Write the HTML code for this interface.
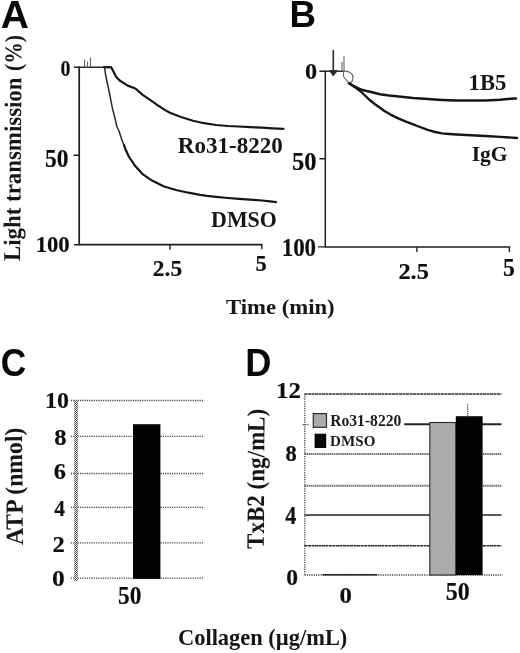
<!DOCTYPE html>
<html>
<head>
<meta charset="utf-8">
<title>Figure</title>
<style>
html,body{margin:0;padding:0;background:#fff;}
body{width:520px;height:653px;overflow:hidden;}
svg{display:block;}
.pl{font-family:"Liberation Sans",Arial,sans-serif;font-weight:bold;fill:#080808;}
.t{font-family:"Liberation Serif","Times New Roman",serif;font-weight:bold;fill:#0e0e0e;stroke:#0e0e0e;stroke-width:0.18;}
.tl{font-family:"Liberation Serif","Times New Roman",serif;font-weight:bold;fill:#161616;}
.lg{font-family:"Liberation Serif","Times New Roman",serif;font-weight:bold;fill:#1a1a1a;}
.ax{stroke:#1e1e1e;stroke-width:1.7;fill:none;}
.tk{stroke:#222;stroke-width:1.4;fill:none;}
.cv{stroke:#161616;stroke-width:2.2;fill:none;stroke-linejoin:round;stroke-linecap:round;}
.cv2{stroke:#2a2a2a;stroke-width:1.6;fill:none;stroke-linejoin:round;stroke-linecap:round;}
.cv3{stroke:#666;stroke-width:1.1;fill:none;stroke-linejoin:round;stroke-linecap:round;}
.gd{stroke:#444;stroke-width:1.3;stroke-dasharray:1.2 1.1;fill:none;}
.gk{stroke:#242424;stroke-width:1.6;fill:none;}
.gg{stroke:#6e6e6e;stroke-width:2;fill:none;stroke-dasharray:1.5 0.6;}
</style>
</head>
<body>
<svg width="520" height="653" viewBox="0 0 520 653">
<rect x="0" y="0" width="520" height="653" fill="#ffffff"/>

<!-- Panel letters -->
<text class="pl" font-size="36" transform="translate(0.73 27.50) scale(1.0821 1.0588)">A</text>
<text class="pl" font-size="36" transform="translate(289.61 27.40) scale(1.0200 1.0467)">B</text>
<text class="pl" font-size="36" transform="translate(0.69 376.11) scale(0.9796 1.0837)">C</text>
<text class="pl" font-size="36" transform="translate(245.34 375.80) scale(1.0072 1.0548)">D</text>
<!-- Panel A -->
<path class="ax" d="M79.2 66.5 V244.7 H262.6"/>
<path class="tk" d="M79 155.2 h-5.5 M170 244.7 v5 M261.8 244.7 v4.6 M73.8 67.2 h5.4 M74 244.7 h5"/>
<path class="cv2" d="M79 67.2 H111"/>
<path class="cv3" d="M84.5 67 v-7 M87.5 67 v-5 M90.5 67 v-9"/>
<path class="cv" d="M104.0 67.2 L111.3 67.4 L113.3 71.2 L116.2 77.0 L120.0 80.8 L127.7 85.6 L135.4 88.5 L143.0 95.2 L150.8 100.4 L158.5 105.8 L166.0 110.6 L170.0 112.7 L181.0 117.0 L193.0 120.8 L204.0 123.2 L216.0 125.0 L228.0 126.0 L239.0 126.5 L250.0 127.1 L262.0 127.7 L273.0 128.3 L283.5 128.8"/>
<path class="cv" d="M104.6 67.3 L105.6 75.0 L108.5 88.5 L112.3 107.7 L115.4 120.0 L117.0 127.0 L119.2 131.5 L122.0 140.4 L124.0 145.0 L125.8 150.0" style="stroke-width:1.5;stroke:#2c2c2c"/>
<path class="cv" d="M124.0 145.0 L125.8 150.0 L128.8 156.5 L134.6 165.2 L142.3 173.8 L152.0 180.6 L163.5 186.3 L170.0 188.3 L177.0 190.2 L188.5 192.7 L200.0 194.8 L207.0 195.9 L216.0 196.8 L228.0 198.0 L239.0 198.9 L250.0 199.7 L262.0 200.5 L270.0 201.4 L276.0 202.2"/>
<text class="t" font-size="24" transform="translate(60.40 75.97) scale(0.8333 0.9506)">0</text>
<text class="t" font-size="24" transform="translate(44.96 166.84) scale(0.9783 1.0679)">50</text>
<text class="t" font-size="24" transform="translate(35.69 251.77) scale(0.9450 0.9568)">100</text>
<text class="t" font-size="24" transform="translate(152.86 275.84) scale(0.9752 0.9877)">2.5</text>
<text class="t" font-size="24" transform="translate(255.61 270.56) scale(0.9314 1.0025)">5</text>
<text class="tl" font-size="24" transform="translate(177.75 153.27) scale(0.9611 0.9506)">Ro31-8220</text>
<text class="tl" font-size="24" transform="translate(211.06 227.28) scale(0.9144 0.9266)">DMSO</text>
<text class="tl" font-size="24" transform="translate(20.10 261.04) rotate(-89.6) scale(0.9526 1.0051)">Light transmission</text>
<text class="tl" font-size="24" transform="translate(21.29 70.97) rotate(-89.6) scale(0.9019 1.0051)">(%)</text>
<!-- Panel B -->
<path class="ax" d="M325.3 70.5 V246.9 H510.2" style="stroke-width:1.5"/>
<path class="tk" d="M325 158.8 h-5.6 M416.9 246.9 v5 M509.4 246.9 v5 M319.4 71.2 h6 M318 246.9 h7"/>
<path class="cv2" d="M325 71.2 H344"/>
<path class="cv2" d="M333.3 50.6 V75 M330.2 70.8 L333.3 75.4 L336.6 70.8 Z" style="fill:#2a2a2a"/>
<path class="cv3" d="M344 56.3 V71.2 M342 62 V70"/>
<path class="cv3" d="M344 71.2 C349 70.5 353.5 74 353 78 C352.5 82 350.5 83.5 349 83.3 M343.6 71.2 L343.5 76.5 L349 83.3"/>
<path class="cv" d="M349.0 83.3 L354.0 86.5 L360.8 89.5 L366.5 91.0 L370.0 91.8 L380.0 94.2 L389.0 95.5 L398.8 96.4 L413.0 98.0 L427.7 99.0 L442.0 99.9 L456.5 100.5 L471.0 100.6 L485.4 100.5 L500.0 99.7 L514.2 98.5 L516.0 98.4" style="stroke-width:2.5"/>
<path class="cv" d="M349.0 83.3 L355.0 87.0 L360.8 91.5 L366.0 96.5 L370.0 100.3 L375.0 104.2 L380.0 107.8 L384.4 111.0 L391.0 114.8 L398.8 118.6 L406.0 121.6 L413.3 124.4 L420.0 127.0 L427.7 129.8 L435.0 132.0 L442.0 133.4 L449.0 134.0 L456.5 134.5 L471.0 135.3 L485.4 136.0 L500.0 136.9 L517.0 138.0" style="stroke-width:2.4"/>
<text class="t" font-size="24" transform="translate(305.03 78.78) scale(1.0119 0.9259)">0</text>
<text class="t" font-size="24" transform="translate(292.02 170.15) scale(1.0236 1.0432)">50</text>
<text class="t" font-size="24" transform="translate(281.66 256.46) scale(0.9571 1.0062)">100</text>
<text class="t" font-size="24" transform="translate(398.43 278.84) scale(1.0142 1.0000)">2.5</text>
<text class="t" font-size="24" transform="translate(502.95 275.76) scale(0.9902 1.0150)">5</text>
<text class="tl" font-size="24" transform="translate(468.58 89.57) scale(0.9462 0.9515)">1B5</text>
<text class="tl" font-size="24" transform="translate(471.65 161.00) scale(0.8982 0.9160)">IgG</text>
<text class="tl" font-size="24" transform="translate(225.96 313.90) scale(0.9470 0.9160)">Time (min)</text>
<!-- Panel C -->
<path class="gd" d="M70.8 400.5 H203 M70.8 436.3 H203 M70.8 473.5 H203 M70.8 507.4 H203 M70.8 542.8 H203 M70.8 578.2 H203"/>
<defs><pattern id="chk" x="0" y="0" width="2" height="2" patternUnits="userSpaceOnUse"><rect width="2" height="2" fill="#e6e6e6"/><rect x="0" y="0" width="1" height="1" fill="#5a5a5a"/><rect x="1" y="1" width="1" height="1" fill="#5a5a5a"/></pattern></defs>
<rect x="74.2" y="400" width="3.8" height="181" fill="url(#chk)"/>
<rect x="133" y="424.2" width="27.4" height="154.7" fill="#030303"/>
<text class="t" font-size="24" transform="translate(44.98 407.67) scale(0.9991 0.9506)">10</text>
<text class="t" font-size="24" transform="translate(54.14 444.77) scale(1.0271 0.9506)">8</text>
<text class="t" font-size="24" transform="translate(53.75 478.57) scale(1.0153 0.9515)">6</text>
<text class="t" font-size="24" transform="translate(54.28 516.30) scale(0.8961 0.9659)">4</text>
<text class="t" font-size="24" transform="translate(52.52 551.60) scale(1.0241 0.9848)">2</text>
<text class="t" font-size="24" transform="translate(51.98 585.57) scale(1.0615 0.9506)">0</text>
<text class="t" font-size="24" transform="translate(117.97 603.75) scale(0.9737 1.0247)">50</text>
<text class="tl" font-size="24" transform="translate(23.00 545.04) rotate(-90.6) scale(0.9889 1.0305)">ATP (nmol)</text>
<!-- Panel D -->
<path class="gd" d="M304.8 394 V575.5"/>
<path class="gk" d="M304.5 394 H501.5" style="stroke-dasharray:3 0.5;stroke-width:1.6;stroke:#2e2e2e"/>
<path class="gd" d="M302.7 424.6 H309.5"/>
<path class="gk" d="M404.2 424.2 H501.5" style="stroke-width:2"/>
<path class="gg" d="M304.5 454 H501.5"/>
<path class="gg" d="M304.5 485.7 H501.5"/>
<path class="gk" d="M304.5 515 H501.5"/>
<path class="gk" d="M304.5 545.8 H501.5" style="stroke-dasharray:3 0.5;stroke-width:1.5;stroke:#2e2e2e"/>
<path class="gd" d="M304.5 575 H502.5"/>
<path class="gk" d="M322.6 574.8 H377.3" style="stroke-width:1.6"/>
<rect x="429.8" y="422.5" width="26" height="152.5" fill="#ababab" stroke="#2a2a2a" stroke-width="1.1"/>
<rect x="455.8" y="416.2" width="26.8" height="158.9" fill="#030303"/>
<path d="M467.6 404.2 V416.5" stroke="#555" stroke-width="1.3" stroke-dasharray="1.3 0.9" fill="none"/>
<rect x="313.3" y="413.6" width="13.2" height="13.7" fill="#ababab" stroke="#2a2a2a" stroke-width="1.2"/>
<rect x="314.6" y="433.7" width="11.6" height="14.3" fill="#0a0a0a"/>
<text class="lg" font-size="16" transform="translate(330.17 426.03) scale(0.9778 1.0741)">Ro31-8220</text>
<text class="lg" font-size="16" transform="translate(330.10 446.05) scale(0.9450 0.9515)">DMSO</text>
<text class="t" font-size="24" transform="translate(276.01 398.00) scale(1.0381 0.9912)">12</text>
<text class="t" font-size="24" transform="translate(285.51 460.77) scale(0.9399 0.9753)">8</text>
<text class="t" font-size="24" transform="translate(285.37 524.20) scale(0.9229 1.0227)">4</text>
<text class="t" font-size="24" transform="translate(286.36 585.16) scale(0.9821 1.0000)">0</text>
<text class="t" font-size="24" transform="translate(339.41 602.96) scale(1.0317 0.9877)">0</text>
<text class="t" font-size="24" transform="translate(445.84 599.76) scale(0.9964 1.0185)">50</text>
<text class="tl" font-size="24" transform="translate(263.80 548.95) rotate(-89.7) scale(0.9599 1.0433)">TxB2 (ng/mL)</text>
<text class="tl" font-size="24" transform="translate(177.98 645.30) scale(0.9356 0.9860)">Collagen (µg/mL)</text>
</svg>
</body>
</html>
